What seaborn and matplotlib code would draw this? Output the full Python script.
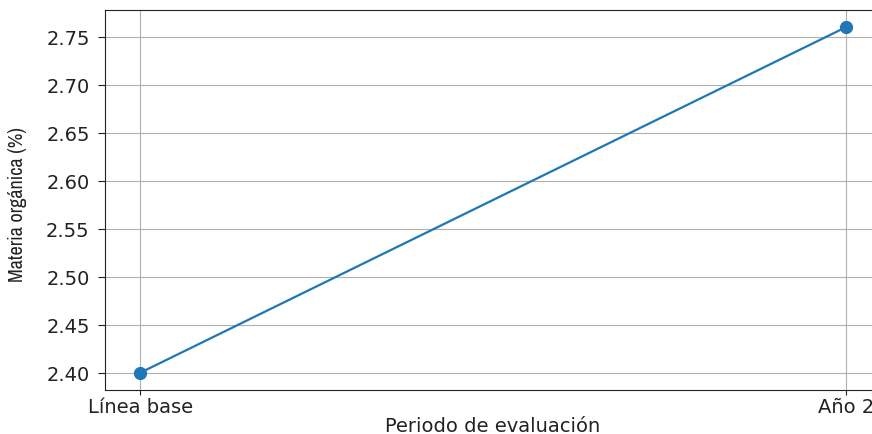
import matplotlib
matplotlib.use("Agg")
import matplotlib.pyplot as plt
from matplotlib import font_manager
import seaborn as sns
import pandas as pd

periodos = ["Línea base", "Año 2"]
materia_organica = [2.40, 2.76]
y_ticks = [2.40, 2.45, 2.50, 2.55, 2.60, 2.65, 2.70, 2.75]

df = pd.DataFrame({"periodo": periodos, "mo": materia_organica})

names = sorted({f.name for f in font_manager.fontManager.ttflist})
narrow = [n for n in names if "Narrow" in n or "Condensed" in n]
ylabel_family = (narrow[:1] if narrow else ["Roboto"]) + ["DejaVu Sans"]

plt.rcParams["font.family"] = ["DejaVu Sans"]
fig = plt.figure(figsize=(8.72, 4.35), dpi=100)
ax = fig.add_axes([105 / 872, 44 / 435, 776 / 872, 380 / 435])

sns.lineplot(data=df, x="periodo", y="mo", marker="o", markersize=9.5,
             markeredgewidth=0, color="#1f77b4", linewidth=1.6, sort=False, ax=ax)

ax.set_yticks(y_ticks)
ax.set_yticklabels([f"{v:.2f}" for v in y_ticks])
ax.grid(True, color="#b0b0b0", linewidth=0.8)
ax.set_axisbelow(True)
ax.tick_params(axis="both", labelsize=14, colors="#222222", labelcolor="#222222")
ax.tick_params(axis="y", pad=6, length=5)
ax.tick_params(axis="x", pad=1.5, length=3.5)
ax.set_xlabel("Periodo de evaluación", fontsize=14, color="#222222", labelpad=0)
ax.set_ylabel("Materia orgánica (%)", fontsize=14.5, color="#222222",
              family=ylabel_family)
ax.yaxis.set_label_coords(-78 / 776, 0.49)
for s in ax.spines.values():
    s.set_color("#222222")

fig.savefig("out.png", dpi=100)
